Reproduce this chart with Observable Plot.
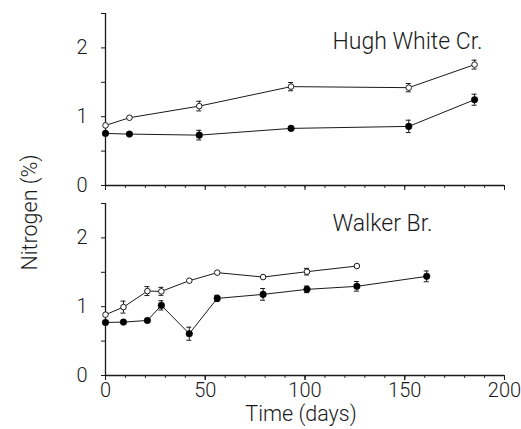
<!DOCTYPE html>
<html>
<head>
<meta charset="utf-8">
<script src="https://cdn.jsdelivr.net/npm/d3@7"></script>
<script src="https://cdn.jsdelivr.net/npm/@observablehq/plot@0.6"></script>
<style>
  html, body { margin: 0; padding: 0; background: #fff; }
</style>
</head>
<body>
<div id="chart"></div>
<script>
// ---- data ----
const sites = ["Hugh White Cr.", "Walker Br."];

// Hugh White Cr.
const hwOpenDays   = [0, 12, 47, 93, 152, 185];
const hwOpenN      = [0.873, 0.985, 1.154, 1.437, 1.422, 1.757];
const hwOpenErr    = [0, 0, 0.07, 0.06, 0.06, 0.065];
const hwFilledDays = [0, 12, 47, 93, 152, 185];
const hwFilledN    = [0.757, 0.747, 0.732, 0.83, 0.859, 1.247];
const hwFilledErr  = [0, 0, 0.07, 0, 0.09, 0.08];

// Walker Br.
const wbOpenDays   = [0, 9, 21, 28, 42, 56, 79, 101, 126];
const wbOpenN      = [0.884, 0.994, 1.227, 1.223, 1.378, 1.495, 1.431, 1.509, 1.591];
const wbOpenErr    = [0, 0.087, 0.065, 0.058, 0, 0, 0, 0.048, 0];
const wbFilledDays = [0, 9, 21, 28, 42, 56, 79, 101, 126, 161];
const wbFilledN    = [0.771, 0.776, 0.80, 1.019, 0.607, 1.121, 1.179, 1.252, 1.296, 1.441];
const wbFilledErr  = [0, 0, 0, 0.068, 0.095, 0.045, 0.085, 0.048, 0.07, 0.078];

const yTicks = [0, 0.5, 1, 1.5, 2, 2.5];
const xMajorTicks = [0, 50, 100, 150, 200];
const xMinorTicks = d3.range(0, 201, 10);
const yLabel = "Nitrogen (%)";
const xLabel = "Time (days)";

// ---- build table ----
function series(site, kind, days, vals, errs) {
  return days.map((d, i) => ({site, kind, day: d, n: vals[i], err: errs[i]}));
}
const rows = [
  ...series(sites[0], "open", hwOpenDays, hwOpenN, hwOpenErr),
  ...series(sites[0], "filled", hwFilledDays, hwFilledN, hwFilledErr),
  ...series(sites[1], "open", wbOpenDays, wbOpenN, wbOpenErr),
  ...series(sites[1], "filled", wbFilledDays, wbFilledN, wbFilledErr)
];
const errRows = rows.filter(d => d.err > 0);
const font = "Roboto, 'Liberation Sans', Arial, sans-serif";
const ink = "#1a1a1a";

const chart = Plot.plot({
  width: 521,
  height: 429,
  marginLeft: 105,
  marginRight: 17,
  marginTop: 13,
  marginBottom: 54,
  style: {fontFamily: font, fontWeight: 300, background: "#fff", color: ink},
  x: {domain: [0, 200], axis: null, label: null},
  y: {domain: [0, 2.5], axis: null, label: null},
  fy: {domain: sites, axis: null, label: null, paddingInner: 0.0963, paddingOuter: 0},
  marks: [
    Plot.axisY({ticks: yTicks, tickSize: 4, tickPadding: 14, fontSize: 20, fontWeight: 300,
      tickFormat: d => Number.isInteger(d) ? String(d) : "", label: null, stroke: ink}),
    Plot.axisX({ticks: xMinorTicks, tickSize: 3, tickFormat: () => "", label: null, facetAnchor: null, stroke: "#333"}),
    Plot.axisX({ticks: xMajorTicks, tickSize: 5, tickFormat: () => "", label: null, facetAnchor: null, stroke: ink}),
    Plot.axisX({ticks: xMajorTicks, tickSize: 5, tickPadding: 2, fontSize: 20, fontWeight: 300, label: null, stroke: ink}),
    Plot.ruleX([0], {y1: 0, y2: 2.5, stroke: ink, strokeWidth: 1.3}),
    Plot.ruleY([0], {x1: 0, x2: 200, stroke: ink, strokeWidth: 1.3}),
    Plot.line(rows, {x: "day", y: "n", z: "kind", fy: "site", stroke: ink, strokeWidth: 1}),
    Plot.ruleX(errRows, {x: "day", y1: d => d.n - d.err, y2: d => d.n + d.err, fy: "site", stroke: ink, strokeWidth: 1}),
    Plot.ruleY(errRows, {y: d => d.n + d.err, x1: "day", x2: "day", fy: "site", insetLeft: -2.5, insetRight: -2.5, stroke: ink, strokeWidth: 1}),
    Plot.ruleY(errRows, {y: d => d.n - d.err, x1: "day", x2: "day", fy: "site", insetLeft: -2.5, insetRight: -2.5, stroke: ink, strokeWidth: 1}),
    Plot.dot(rows.filter(d => d.kind === "open"), {x: "day", y: "n", fy: "site", r: 2.8, fill: "#fff", stroke: ink, strokeWidth: 1}),
    Plot.dot(rows.filter(d => d.kind === "filled"), {x: "day", y: "n", fy: "site", r: 3.3, fill: "#000", stroke: "#000", strokeWidth: 0.5}),
    Plot.text([sites[0]], {fy: d => d, text: d => d, frameAnchor: "top-left", textAnchor: "start", lineAnchor: "bottom", dx: 227, dy: 35, fontSize: 23, fontWeight: 300, fill: ink}),
    Plot.text([sites[1]], {fy: d => d, text: d => d, frameAnchor: "top-left", textAnchor: "start", lineAnchor: "bottom", dx: 227, dy: 27, fontSize: 23, fontWeight: 300, fill: ink}),
    Plot.text([yLabel], {fy: () => sites[0], text: d => d, frameAnchor: "left", rotate: -90, textAnchor: "middle", lineAnchor: "middle", dx: -75, dy: 113, fontSize: 21.5, fontWeight: 300, fill: ink}),
    Plot.text([xLabel], {fy: () => sites[1], text: d => d, frameAnchor: "bottom", textAnchor: "middle", lineAnchor: "top", dx: -4, dy: 30, fontSize: 21.5, fontWeight: 300, fill: ink})
  ]
});
document.getElementById("chart").appendChild(chart);
</script>
</body>
</html>
